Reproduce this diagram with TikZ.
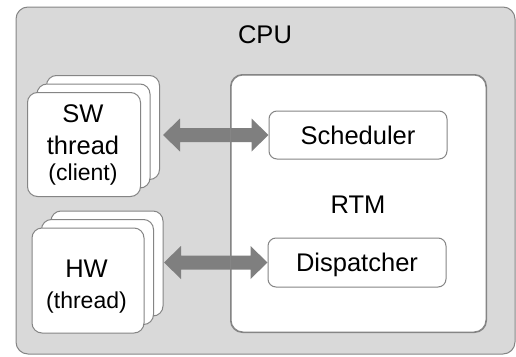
\documentclass[tikz,border=0pt]{standalone}
\usepackage{fontspec}
\setmainfont{Liberation Sans}
\usetikzlibrary{calc}
\definecolor{cpufill}{HTML}{D9D9D9}
\definecolor{edgegray}{HTML}{858585}
\definecolor{arrowgray}{HTML}{7F7F7F}

% double-headed block arrow from a free end (#1) to a node anchor (#2)
\newcommand{\blockarrow}[2]{%
  \fill[arrowgray] let \p1=(#1), \p2=(#2) in
    (\x1,\y2) -- (\x1+17pt,\y2+16.5pt) -- (\x1+17pt,\y2+7pt)
    -- (\x2-17pt,\y2+7pt) -- (\x2-17pt,\y2+16.5pt) -- (\x2,\y2)
    -- (\x2-17pt,\y2-16.5pt) -- (\x2-17pt,\y2-7pt)
    -- (\x1+17pt,\y2-7pt) -- (\x1+17pt,\y2-16.5pt) -- cycle;}

\begin{document}
\begin{tikzpicture}[x=1pt,y=-1pt,
  outline/.style={draw=edgegray, line width=1pt},
  cpubox/.style={outline, fill=cpufill, rounded corners=12pt, inner sep=0pt},
  rtmbox/.style={outline, fill=white, rounded corners=12pt, inner sep=0pt},
  threadbox/.style={outline, fill=white, rounded corners=10pt, inner sep=0pt,
    minimum width=113pt, minimum height=104pt},
  unitbox/.style={outline, fill=white, rounded corners=8pt, inner sep=0pt,
    minimum width=178pt, minimum height=48pt, text height=18pt, text depth=0pt,
    font=\fontsize{25.5}{30}\selectfont},
  big/.style={anchor=base, inner sep=0pt, font=\fontsize{25.5}{30}\selectfont},
  small/.style={anchor=base, inner sep=0pt, font=\fontsize{23}{27}\selectfont}]

\useasboundingbox (0,0) rectangle (516,356);

% CPU enclosure
\node[cpubox, minimum width=499pt, minimum height=347pt] (cpu) at (265.5,180.5) {};
\node[big] (cputext) at (265,43.3) {CPU};

% RTM with its two units
\node[rtmbox, minimum width=255pt, minimum height=257pt] (rtm) at (358.5,203.5) {};
\node[big] (rtmtext) at (358,213.3) {RTM};
\node[unitbox] (sched) at (358,135) {Scheduler};
\node[unitbox, minimum height=49pt] (disp) at (357,262.5) {Dispatcher};

% stacked software threads
\node[threadbox] (swback) at (103,127.5) {};
\node[threadbox] (swmid) at (93.5,136) {};
\node[threadbox] (swfront) at (84,144.5) {};
\node[big] (swa) at (83,122.7) {SW};
\node[big] (swb) at (83,154) {thread};
\node[small] (swc) at (83,180.7) {(client)};

% stacked hardware threads
\node[threadbox, minimum width=112pt, minimum height=105pt] (hwback) at (107,263.5) {};
\node[threadbox, minimum width=112pt, minimum height=105pt] (hwmid) at (97.5,272) {};
\node[threadbox, minimum width=112pt, minimum height=105pt] (hwfront) at (88,280.5) {};
\node[big] (hwa) at (86.5,277.7) {HW};
\node[small] (hwb) at (86.5,308) {(thread)};

% block arrows between the threads and the RTM units
\coordinate (swtip) at (163,135);
\coordinate (hwtip) at (164,262.5);
\blockarrow{swtip}{sched.west}
\blockarrow{hwtip}{disp.west}

% RTM border stays visible across the arrows
\draw[outline, rounded corners=12pt] (rtm.north west) rectangle (rtm.south east);
\end{tikzpicture}
\end{document}
